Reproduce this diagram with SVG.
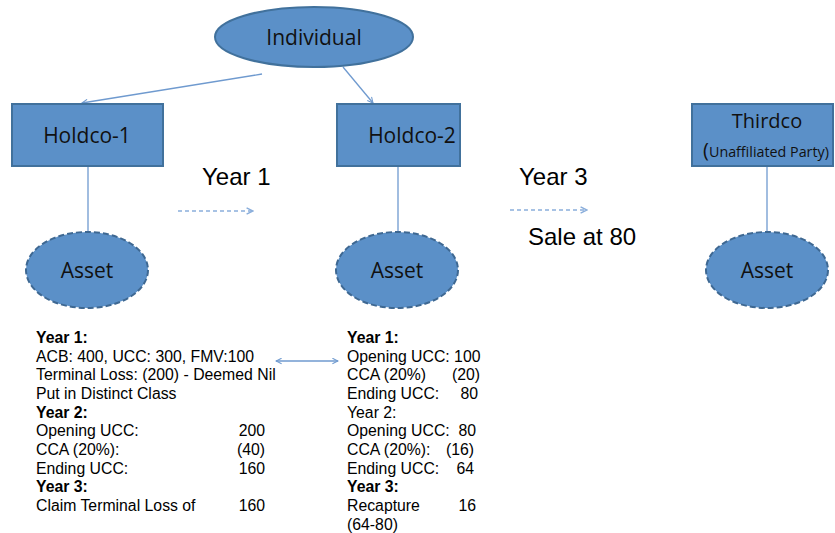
<svg xmlns="http://www.w3.org/2000/svg" width="835" height="533" viewBox="0 0 835 533">
<defs>
<style>
.node{fill:#5B90C8;stroke:#41719C;stroke-width:2}
.asset{fill:#5B90C8;stroke:#3E6892;stroke-width:2;stroke-dasharray:6 3}
.lbl{font-family:"Open Sans","Liberation Sans",sans-serif;font-size:21px;fill:#111;text-anchor:middle}
.big{font-family:"Liberation Sans",Arial,sans-serif;font-size:24px;fill:#000}
.txt{font-family:"Liberation Sans",Arial,sans-serif;font-size:15.8px;fill:#000}
.b{font-weight:bold}
.conn{stroke:#6F9ACF;stroke-width:1.3;fill:none}
.dash{stroke:#8AAEDB;stroke-width:1.3;fill:none;stroke-dasharray:4 3}
</style>
<marker id="ah" viewBox="0 0 10 10" refX="9" refY="5" markerWidth="7" markerHeight="7" orient="auto-start-reverse" markerUnits="userSpaceOnUse">
<path d="M1,1 L9,5 L1,9" fill="none" stroke="#6F9ACF" stroke-width="1.5"/>
</marker>
<marker id="ah2" viewBox="0 0 10 10" refX="9" refY="5" markerWidth="8" markerHeight="8" orient="auto" markerUnits="userSpaceOnUse">
<path d="M1,1 L9,5 L1,9" fill="none" stroke="#8AAEDB" stroke-width="1.8"/>
</marker>
</defs>
<rect width="835" height="533" fill="#fff"/>
<g id="connectors">
<line class="conn" x1="262" y1="74" x2="82" y2="103" marker-end="url(#ah)"/>
<line class="conn" x1="343" y1="67" x2="373" y2="103" marker-end="url(#ah)"/>
<line class="conn" x1="88" y1="166" x2="88" y2="232"/>
<line class="conn" x1="398" y1="166" x2="398" y2="232"/>
<line class="conn" x1="767" y1="166" x2="767" y2="233"/>
<line class="dash" x1="178" y1="211" x2="253" y2="211" marker-end="url(#ah2)"/>
<line class="dash" x1="510" y1="210" x2="587" y2="210" marker-end="url(#ah2)"/>
<line class="conn" x1="276" y1="361" x2="338" y2="361" marker-start="url(#ah)" marker-end="url(#ah)"/>
</g>
<g id="individual">
<ellipse class="node" cx="314" cy="37" rx="99" ry="30"/>
<text class="lbl" x="314" y="45">Individual</text>
</g>
<g id="holdco1">
<rect class="node" x="12" y="104" width="151" height="62"/>
<text class="lbl" x="87" y="143">Holdco-1</text>
</g>
<g id="holdco2">
<rect class="node" x="337" y="104" width="123" height="62"/>
<text class="lbl" x="412" y="143">Holdco-2</text>
</g>
<g id="thirdco">
<rect class="node" x="692" y="104" width="141" height="62"/>
<text class="lbl" x="767" y="128" style="font-size:20px">Thirdco</text>
<text class="lbl" x="766" y="157" style="font-size:14.3px"><tspan style="font-size:20px">(</tspan>Unaffiliated Party)</text>
</g>
<g id="asset1">
<ellipse class="asset" cx="87" cy="270" rx="61" ry="38"/>
<text class="lbl" x="87" y="278">Asset</text>
</g>
<g id="asset2">
<ellipse class="asset" cx="397" cy="270" rx="61" ry="38"/>
<text class="lbl" x="397" y="278">Asset</text>
</g>
<g id="asset3">
<ellipse class="asset" cx="767" cy="270" rx="61" ry="38"/>
<text class="lbl" x="767" y="278">Asset</text>
</g>
<g id="labels">
<text class="big" x="202" y="185">Year 1</text>
<text class="big" x="519" y="185">Year 3</text>
<text class="big" x="528" y="245">Sale at 80</text>
</g>
<g id="left-notes" class="txt">
<text class="txt b" x="36" y="343">Year 1:</text>
<text class="txt" x="36" y="361.7">ACB: 400, UCC: 300, FMV:100</text>
<text class="txt" x="36" y="380.3">Terminal Loss: (200) - Deemed Nil</text>
<text class="txt" x="36" y="399">Put in Distinct Class</text>
<text class="txt b" x="36" y="417.7">Year 2:</text>
<text class="txt" x="36" y="436.3">Opening UCC:</text>
<text class="txt" x="265" y="436.3" text-anchor="end">200</text>
<text class="txt" x="36" y="455">CCA (20%):</text>
<text class="txt" x="265" y="455" text-anchor="end">(40)</text>
<text class="txt" x="36" y="473.7">Ending UCC:</text>
<text class="txt" x="265" y="473.7" text-anchor="end">160</text>
<text class="txt b" x="36" y="492.3">Year 3:</text>
<text class="txt" x="36" y="511">Claim Terminal Loss of</text>
<text class="txt" x="265" y="511" text-anchor="end">160</text>
</g>
<g id="right-notes" class="txt">
<text class="txt b" x="347" y="343">Year 1:</text>
<text class="txt" x="347" y="361.7">Opening UCC: 100</text>
<text class="txt" x="347" y="380.3">CCA (20%)</text>
<text class="txt" x="480" y="380.3" text-anchor="end">(20)</text>
<text class="txt" x="347" y="399">Ending UCC:</text>
<text class="txt" x="478" y="399" text-anchor="end">80</text>
<text class="txt" x="347" y="417.7">Year 2:</text>
<text class="txt" x="347" y="436.3">Opening UCC:</text>
<text class="txt" x="476" y="436.3" text-anchor="end">80</text>
<text class="txt" x="347" y="455">CCA (20%):</text>
<text class="txt" x="474" y="455" text-anchor="end">(16)</text>
<text class="txt" x="347" y="473.7">Ending UCC:</text>
<text class="txt" x="474" y="473.7" text-anchor="end">64</text>
<text class="txt b" x="347" y="492.3">Year 3:</text>
<text class="txt" x="347" y="511">Recapture</text>
<text class="txt" x="476" y="511" text-anchor="end">16</text>
<text class="txt" x="347" y="529.7">(64-80)</text>
</g>
</svg>
